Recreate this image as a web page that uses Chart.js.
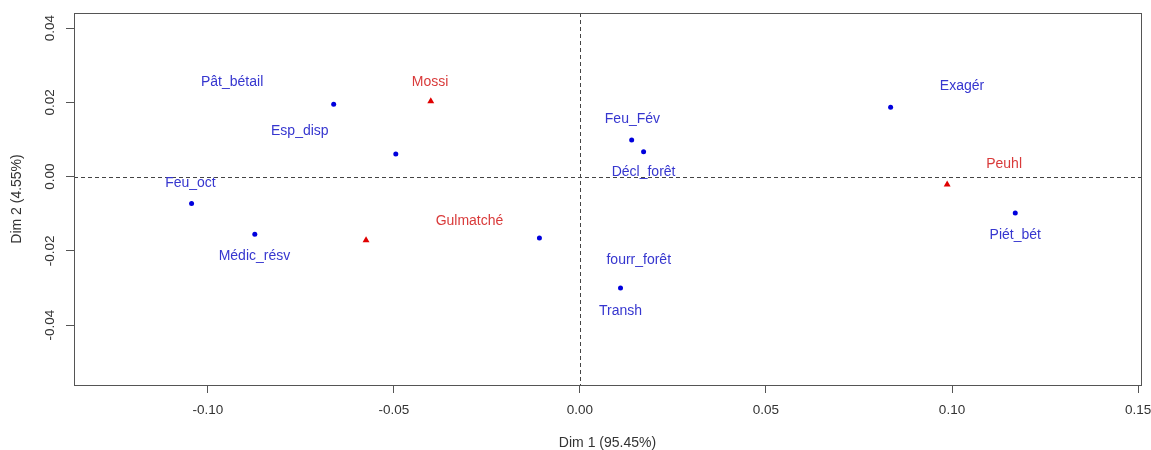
<!DOCTYPE html>
<html>
<head>
<meta charset="utf-8">
<script src="https://cdn.jsdelivr.net/npm/chart.js@4/dist/chart.umd.min.js"></script>
<style>
html,body{margin:0;padding:0;background:#fff;}
#wrap{width:1151px;height:450px;position:relative;}
</style>
</head>
<body>
<div id="wrap"><canvas id="c"></canvas></div>
<script>
// Column points (blue dots)
const colNames = ["Pât_bétail","Esp_disp","Feu_oct","Médic_résv","Gulmatché_pt","Feu_Fév","Décl_forêt","Transh","Exagér","Piét_bét"];
const colX = [-0.0662, -0.0495, -0.1044, -0.0874, -0.0109, 0.0139, 0.0171, 0.0109, 0.0835, 0.1170];
const colY = [ 0.0195,  0.0061, -0.0072, -0.0155, -0.0165, 0.0099, 0.0067, -0.0300, 0.0187, -0.0098];
// Row points (red triangles)
const rowNames = ["Mossi","Gulmatché","Peuhl"];
const rowX = [-0.0401, -0.0575, 0.0987];
const rowY = [ 0.0203, -0.0171, -0.0021];
// Text labels (as placed on the map)
const blueLabels = ["Pât_bétail","Esp_disp","Feu_oct","Médic_résv","Feu_Fév","Décl_forêt","fourr_forêt","Transh","Exagér","Piét_bét"];
const blueLabelX = [-0.0935, -0.0753, -0.1047, -0.0875, 0.0141, 0.0171, 0.0158, 0.0109, 0.1027, 0.1170];
const blueLabelY = [ 0.0254,  0.0122, -0.0016, -0.0213, 0.0156, 0.0013, -0.0224, -0.0361, 0.0245, -0.0156];
const redLabels = ["Mossi","Gulmatché","Peuhl"];
const redLabelX = [-0.0403, -0.0297, 0.1140];
const redLabelY = [ 0.0256, -0.0119, 0.0034];
// Axes
const xTicks = [-0.10, -0.05, 0.00, 0.05, 0.10, 0.15];
const yTicks = [-0.04, -0.02, 0.00, 0.02, 0.04];
const xTitle = "Dim 1 (95.45%)";
const yTitle = "Dim 2 (4.55%)";

const FONT = "'Liberation Sans', Arial, sans-serif";

const decor = {
  id: 'decor',
  beforeDatasetsDraw(chart) {
    const {ctx, chartArea: a, scales: {x, y}} = chart;
    ctx.save();
    ctx.strokeStyle = '#444';
    ctx.lineWidth = 1;
    ctx.setLineDash([4, 3]);
    const x0 = Math.round(x.getPixelForValue(0)) + 0.5;
    const y0 = Math.round(y.getPixelForValue(0)) + 0.5;
    ctx.beginPath();
    ctx.moveTo(x0, a.top); ctx.lineTo(x0, a.bottom);
    ctx.moveTo(a.left, y0); ctx.lineTo(a.right, y0);
    ctx.stroke();
    ctx.restore();
  },
  afterDatasetsDraw(chart) {
    const {ctx, chartArea: a, scales: {x, y}} = chart;
    ctx.save();
    // box
    ctx.strokeStyle = '#555';
    ctx.lineWidth = 1;
    ctx.strokeRect(Math.round(a.left) + 0.5, Math.round(a.top) + 0.5, Math.round(a.right - a.left), Math.round(a.bottom - a.top));
    // point labels
    ctx.font = '14px ' + FONT;
    ctx.textAlign = 'center';
    ctx.textBaseline = 'middle';
    ctx.fillStyle = '#3636cf';
    blueLabels.forEach((t, i) => ctx.fillText(t, x.getPixelForValue(blueLabelX[i]), y.getPixelForValue(blueLabelY[i])));
    ctx.fillStyle = '#d93a3a';
    redLabels.forEach((t, i) => ctx.fillText(t, x.getPixelForValue(redLabelX[i]), y.getPixelForValue(redLabelY[i])));
    // y tick labels rotated
    ctx.fillStyle = '#333';
    ctx.font = '13.5px ' + FONT;
    yTicks.forEach(v => {
      ctx.save();
      ctx.translate(50, y.getPixelForValue(v));
      ctx.rotate(-Math.PI / 2);
      ctx.fillText(v.toFixed(2), 0, 0);
      ctx.restore();
    });
    // axis titles
    ctx.font = '14px ' + FONT;
    ctx.save();
    ctx.translate(17, (a.top + a.bottom) / 2);
    ctx.rotate(-Math.PI / 2);
    ctx.fillText(yTitle, 0, 0);
    ctx.restore();
    ctx.fillText(xTitle, (a.left + a.right) / 2, 443);
    ctx.restore();
  }
};

new Chart(document.getElementById('c'), {
  type: 'scatter',
  data: {
    datasets: [
      {
        label: 'cols',
        data: colX.map((v, i) => ({x: v, y: colY[i]})),
        pointStyle: 'circle',
        pointRadius: 2.5,
        backgroundColor: '#0000dd',
        borderColor: '#0000dd',
        borderWidth: 0
      },
      {
        label: 'rows',
        data: rowX.map((v, i) => ({x: v, y: rowY[i]})),
        pointStyle: 'triangle',
        pointRadius: 4,
        backgroundColor: '#e00000',
        borderColor: '#e00000',
        borderWidth: 0
      }
    ]
  },
  options: {
    responsive: true,
    maintainAspectRatio: false,
    animation: false,
    layout: {padding: {top: 13, right: 10, left: 0, bottom: 0}},
    plugins: {legend: {display: false}, tooltip: {enabled: false}},
    scales: {
      x: {
        type: 'linear',
        min: -0.136, max: 0.1508,
        afterFit(s) { s.height = 65; s.paddingLeft = 0; s.paddingRight = 0; },
        afterBuildTicks(s) { s.ticks = xTicks.map(v => ({value: v})); },
        grid: {drawOnChartArea: false, drawTicks: true, tickLength: 8, color: '#555'},
        border: {display: true, color: '#555'},
        ticks: {
          color: '#333', font: {family: FONT, size: 13.5}, padding: 9,
          maxRotation: 0, minRotation: 0, autoSkip: false,
          callback: v => Number(v).toFixed(2)
        }
      },
      y: {
        type: 'linear',
        min: -0.0561, max: 0.0441,
        afterFit(s) { s.width = 74; s.paddingTop = 0; s.paddingBottom = 0; },
        afterBuildTicks(s) { s.ticks = yTicks.map(v => ({value: v})); },
        grid: {drawOnChartArea: false, drawTicks: true, tickLength: 8, color: '#555'},
        border: {display: true, color: '#555'},
        ticks: {color: 'rgba(0,0,0,0)', font: {family: FONT, size: 12}, autoSkip: false,
          callback: v => Number(v).toFixed(2)}
      }
    }
  },
  plugins: [decor]
});
</script>
</body>
</html>
